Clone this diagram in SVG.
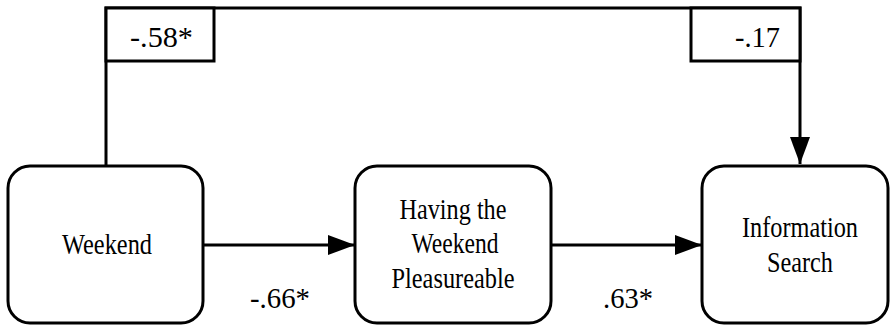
<svg xmlns="http://www.w3.org/2000/svg" width="893" height="326" viewBox="0 0 893 326" font-family="'Liberation Serif', 'Times New Roman', serif" font-size="29">
<style>
.node{fill:#fff;stroke:#000;stroke-width:3}
.lbl{fill:#fff;stroke:#000;stroke-width:3}
.ln{fill:none;stroke:#000;stroke-width:3}
</style>
<defs>
<marker id="arr" viewBox="0 0 27 20" refX="27" refY="10" markerWidth="27" markerHeight="20" orient="auto" markerUnits="userSpaceOnUse">
<path d="M0,0 L27,10 L0,20 Z" fill="#000"/>
</marker>
</defs>
<g id="connectors">
<path class="ln" d="M106,165 L106,8 L800,8 L800,164" marker-end="url(#arr)"/>
<path class="ln" d="M203,245 L355,245" marker-end="url(#arr)"/>
<path class="ln" d="M551,245 L702,245" marker-end="url(#arr)"/>
<g id="label-58">
<rect class="lbl" x="106" y="8" width="108" height="53"/>
<text x="130" y="47" font-size="30" textLength="63" lengthAdjust="spacingAndGlyphs">-.58*</text>
</g>
<g id="label-17">
<rect class="lbl" x="691" y="8" width="109" height="53"/>
<text x="735" y="47" font-size="30" textLength="45" lengthAdjust="spacingAndGlyphs">-.17</text>
</g>
<text x="250" y="308" font-size="30" textLength="60" lengthAdjust="spacingAndGlyphs">-.66*</text>
<text x="603" y="308" font-size="30" textLength="50" lengthAdjust="spacingAndGlyphs">.63*</text>
</g>
<g id="weekend" text-anchor="middle">
<rect class="node" x="8" y="166" width="195" height="157" rx="22"/>
<text x="107" y="254" textLength="90" lengthAdjust="spacingAndGlyphs">Weekend</text>
</g>
<g id="pleasureable" text-anchor="middle">
<rect class="node" x="355" y="166" width="196" height="157" rx="22"/>
<text x="453" y="219" textLength="107" lengthAdjust="spacingAndGlyphs">Having the</text>
<text x="455" y="253" textLength="87" lengthAdjust="spacingAndGlyphs">Weekend</text>
<text x="453" y="288" textLength="123" lengthAdjust="spacingAndGlyphs">Pleasureable</text>
</g>
<g id="information-search" text-anchor="middle">
<rect class="node" x="702" y="166" width="186" height="157" rx="22"/>
<text x="800" y="237" textLength="116" lengthAdjust="spacingAndGlyphs">Information</text>
<text x="800" y="272" textLength="66" lengthAdjust="spacingAndGlyphs">Search</text>
</g>
</svg>
